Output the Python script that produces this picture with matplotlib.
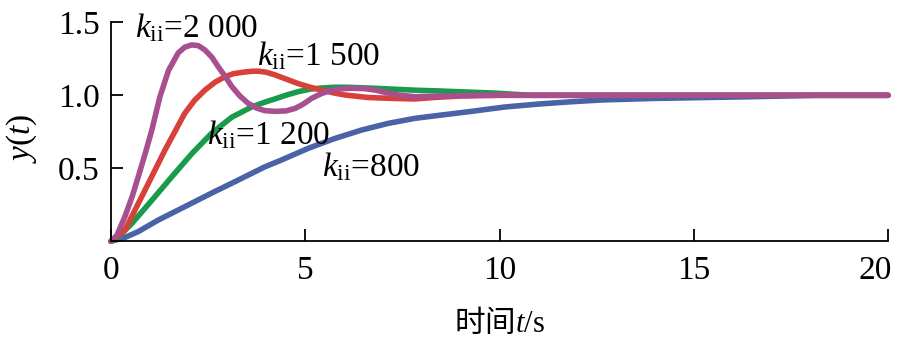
import matplotlib
matplotlib.use("Agg")
import matplotlib.pyplot as plt
from matplotlib.transforms import ScaledTranslation

plt.rcParams['font.family'] = ['Liberation Serif', 'Noto Sans CJK SC']
plt.rcParams['mathtext.fontset'] = 'custom'
plt.rcParams['mathtext.rm'] = 'Liberation Serif'
plt.rcParams['mathtext.it'] = 'Liberation Serif:italic'
plt.rcParams['mathtext.bf'] = 'Liberation Serif:bold'

# ---- data ----
t_2000 = [0, 0.15, 0.36, 0.55, 0.70, 0.88, 1.05, 1.26, 1.48, 1.73, 1.90, 2.08, 2.25, 2.42,
          2.60, 2.76, 2.95, 3.11, 3.32, 3.53, 3.75, 3.96, 4.22, 4.50, 4.74, 4.95, 5.17,
          5.42, 5.68, 5.95, 6.20, 6.50, 6.80, 7.05, 7.31, 7.82, 8.5, 9.5, 20]
y_2000 = [0, 0.04, 0.17, 0.31, 0.44, 0.60, 0.76, 0.99, 1.17, 1.29, 1.33, 1.345, 1.34, 1.31,
          1.26, 1.196, 1.125, 1.06, 0.995, 0.945, 0.912, 0.895, 0.89, 0.893, 0.91, 0.94, 0.98,
          1.012, 1.036, 1.045, 1.048, 1.046, 1.036, 1.02, 1.005, 0.99, 0.995, 1.0, 1.0]

t_1500 = [0, 0.36, 0.875, 1.39, 1.90, 2.15, 2.42, 2.68, 2.93, 3.15, 3.45, 3.65, 3.80, 4.00,
          4.22, 4.50, 4.82, 5.12, 5.42, 5.72, 6.02, 6.62, 7.31, 7.82, 8.3, 9.0, 10.0, 20]
y_1500 = [0, 0.077, 0.35, 0.625, 0.877, 0.965, 1.036, 1.09, 1.127, 1.148, 1.16, 1.165, 1.165,
          1.158, 1.14, 1.112, 1.08, 1.056, 1.036, 1.017, 1.002, 0.985, 0.978, 0.975, 0.985,
          0.995, 1.0, 1.0]

t_1200 = [0, 0.19, 0.53, 1.05, 1.56, 2.08, 2.59, 3.11, 3.62, 3.95, 4.22, 4.52, 4.82, 5.12,
          5.42, 5.75, 6.11, 6.80, 7.82, 8.42, 9.88, 10.8, 20]
y_1200 = [0, 0.03, 0.12, 0.28, 0.44, 0.60, 0.74, 0.85, 0.92, 0.952, 0.975, 1.002, 1.025, 1.042,
          1.05, 1.055, 1.055, 1.048, 1.035, 1.03, 1.015, 1.0, 1.0]

t_800 = [0, 0.35, 0.70, 1.22, 1.90, 2.59, 3.28, 3.96, 4.39, 5.08, 5.77, 6.45, 7.14, 7.82,
         8.42, 9.28, 10.14, 11.0, 11.86, 12.63, 13.9, 16.4, 18.2, 20]
y_800 = [0, 0.025, 0.066, 0.146, 0.237, 0.33, 0.42, 0.51, 0.557, 0.637, 0.705, 0.762, 0.808,
         0.842, 0.862, 0.89, 0.92, 0.94, 0.956, 0.968, 0.978, 0.99, 1.0, 1.0]

labels = [r'$k_{\mathrm{ii}}$=800', r'$k_{\mathrm{ii}}$=1 200',
          r'$k_{\mathrm{ii}}$=1 500', r'$k_{\mathrm{ii}}$=2 000']
label_pos = [(5.43, 0.447), (2.47, 0.666), (3.76, 1.208), (0.62, 1.40)]

x_ticks = [0, 5, 10, 15, 20]
y_ticks = [0.5, 1.0, 1.5]

colors = ['#4a62a6', '#1a9a4c', '#d8403a', '#a8508f']

fig = plt.figure(figsize=(9, 3.41), dpi=100)
ax = fig.add_axes([0.1233, 0.2924, 0.8634, 0.6422])

series = [(t_800, y_800), (t_1200, y_1200), (t_1500, y_1500), (t_2000, y_2000)]
for (t, y), c in zip(series, colors):
    ax.plot(t, y, color=c, lw=4.0, solid_capstyle='round', solid_joinstyle='round',
            clip_on=False)

for lab, (x, y) in zip(labels, label_pos):
    ax.text(x, y, lab, fontsize=24, va='baseline', ha='left')

ax.set_xlim(0, 20)
ax.set_ylim(0, 1.5)
ax.set_xticks(x_ticks)
ax.set_xticklabels([str(v) for v in x_ticks])
ax.set_yticks(y_ticks)
ax.set_yticklabels(['%.1f' % v for v in y_ticks])
for s in ['top', 'right']:
    ax.spines[s].set_visible(False)
for s in ['left', 'bottom']:
    ax.spines[s].set_linewidth(1.3)
ax.tick_params(direction='in', length=8.5, width=1.3, labelsize=24, pad=8)
ax.tick_params(axis='x', pad=10)

# nudge the last x tick label left so it stays inside the figure, as in the reference
last = ax.xaxis.get_major_ticks()[-1].label1
last.set_transform(last.get_transform() + ScaledTranslation(-9 / 72, 0, fig.dpi_scale_trans))

ax.set_ylabel(r'$y(t)$', fontsize=24)
ax.yaxis.set_label_coords(-0.092, 0.47)
ax.set_xlabel(r'时间$t/\mathrm{s}$', fontsize=22, family=['Noto Sans CJK SC'])
ax.xaxis.set_label_coords(0.5, -0.30)

fig.savefig('out.png', dpi=100)
